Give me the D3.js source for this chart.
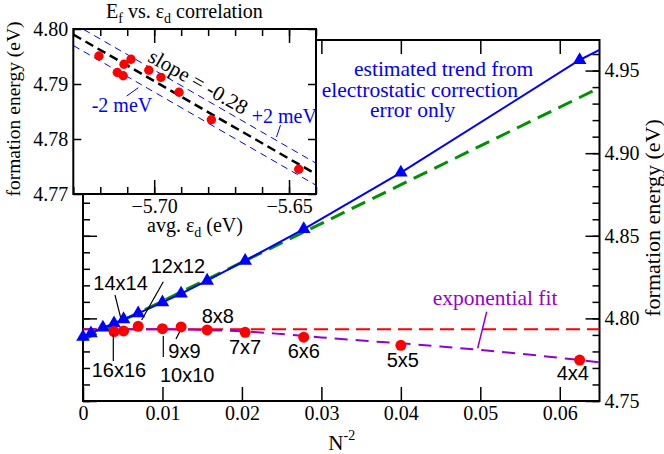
<!DOCTYPE html>
<html>
<head>
<meta charset="utf-8">
<script src="https://cdn.jsdelivr.net/npm/d3@7"></script>
<style>
body { margin: 0; background: #fff; }
svg text { font-family: "Liberation Serif", "Times New Roman", serif; }
svg text.sans { font-family: "Liberation Sans", Arial, sans-serif; }
</style>
</head>
<body>
<script>
// ---- data ----
// supercell sizes NxN, x = N^-2
var sizes = [4, 5, 6, 7, 8, 9, 10, 12, 14, 16];
var nInv2 = sizes.map(function(n) { return 1 / (n * n); });
// computed formation energies (red circles)
var formEnergy = [4.7748, 4.7837, 4.7886, 4.7916, 4.7930, 4.7948, 4.7938, 4.7952, 4.7924, 4.7920];
// electrostatic-only trend (blue triangles), extra larger cells + infinite limit
var trendX = nInv2.concat([0.0025, 0.001, 0]);
var trendE = [4.9564, 4.8882, 4.8541, 4.8349, 4.8228, 4.8150, 4.8097, 4.8030, 4.7995, 4.7970, 4.7944, 4.7910, 4.7889];
var trendEndX = 0.065, trendEndE = 4.9625;
// green dashed linear trend
var linX = [0, 0.065];
var linE = [4.787, 4.9396];
// red dashed converged value
var convE = 4.7934;
// exponential fit (violet dashed)
var expX = [0, 0.01, 0.015, 0.02, 0.025, 0.03, 0.035, 0.04, 0.045, 0.05, 0.055, 0.06, 0.065];
var expE = [4.7934, 4.7934, 4.7930, 4.7922, 4.7905, 4.7885, 4.7866, 4.7849, 4.7830, 4.7809, 4.7786, 4.7761, 4.7734];

// inset: formation energy vs avg d-band centre
var edAvg = [-5.7205, -5.7137, -5.7115, -5.7112, -5.7086, -5.7020, -5.6975, -5.6908, -5.6788, -5.6464];
var edForm = [4.7951, 4.7921, 4.7915, 4.7936, 4.7945, 4.7925, 4.7912, 4.7885, 4.7835, 4.7745];
var fitX = [-5.73, -5.64];
var fitE = [4.7990, 4.7736];
var bandOffsets = [-0.002, 0.002];

// tick labels
var mainXTicks = [0, 0.01, 0.02, 0.03, 0.04, 0.05, 0.06];
var mainYTicks = [4.75, 4.80, 4.85, 4.90, 4.95];
var insetXTicks = [-5.70, -5.65];
var insetYTicks = [4.77, 4.78, 4.79, 4.80];

var W = 664, H = 454;
var svg = d3.select("body").append("svg")
  .attr("width", W)
  .attr("height", H);

//==================== main plot ====================
var x = d3.scaleLinear().domain([0, 0.065]).range([83, 599.5]);
var y = d3.scaleLinear().domain([4.75, 4.9685]).range([401, 40]);

function clean(g) {
  g.select(".domain").remove();
  g.selectAll(".tick line").attr("stroke", "#000").attr("stroke-width", 1.5);
  g.selectAll(".tick text").attr("fill", "#000").attr("font-family", "Liberation Serif").attr("font-size", 20);
}

svg.append("g")
  .attr("transform", "translate(0,401)")
  .call(d3.axisBottom(x).tickValues(mainXTicks).tickSizeInner(-14).tickSizeOuter(0).tickPadding(5)
    .tickFormat(function(d) { return d === 0 ? "0" : d3.format(".2f")(d); }))
  .call(clean);
svg.append("g")
  .attr("transform", "translate(0,40)")
  .call(d3.axisTop(x).tickValues(mainXTicks).tickSizeInner(-14).tickSizeOuter(0).tickFormat(""))
  .call(clean);
// minor y ticks every 0.01
svg.append("g")
  .attr("transform", "translate(83,0)")
  .call(d3.axisLeft(y).ticks(22).tickSizeInner(-7).tickSizeOuter(0).tickFormat(""))
  .call(clean);
svg.append("g")
  .attr("transform", "translate(599.5,0)")
  .call(d3.axisRight(y).ticks(22).tickSizeInner(-7).tickSizeOuter(0).tickFormat(""))
  .call(clean);
svg.append("g")
  .attr("transform", "translate(83,0)")
  .call(d3.axisLeft(y).tickValues(mainYTicks).tickSizeInner(-14).tickSizeOuter(0).tickFormat(""))
  .call(clean);
svg.append("g")
  .attr("transform", "translate(599.5,0)")
  .call(d3.axisRight(y).tickValues(mainYTicks).tickSizeInner(-14).tickSizeOuter(0).tickPadding(5)
    .tickFormat(d3.format(".2f")))
  .call(clean);

svg.append("rect")
  .attr("x", 83).attr("y", 40)
  .attr("width", 516.5).attr("height", 361)
  .attr("fill", "none").attr("stroke", "#000").attr("stroke-width", 2);

var line = d3.line().x(function(d) { return x(d[0]); }).y(function(d) { return y(d[1]); });

// red converged value
svg.append("path")
  .datum([[0, convE], [0.065, convE]])
  .attr("d", line)
  .attr("fill", "none").attr("stroke", "#ff0000").attr("stroke-width", 2)
  .attr("stroke-dasharray", "14,7");

// exponential fit
svg.append("path")
  .datum(d3.zip(expX, expE))
  .attr("d", line.curve(d3.curveMonotoneX))
  .attr("fill", "none").attr("stroke", "#9400d3").attr("stroke-width", 2)
  .attr("stroke-dasharray", "13,8");
line.curve(d3.curveLinear);

// green dashed linear trend
svg.append("path")
  .datum(d3.zip(linX, linE))
  .attr("d", line)
  .attr("fill", "none").attr("stroke", "#009100").attr("stroke-width", 3)
  .attr("stroke-dasharray", "15,8");

// blue trend line + triangles
svg.append("path")
  .datum([[trendEndX, trendEndE]].concat(d3.zip(trendX, trendE)))
  .attr("d", line)
  .attr("fill", "none").attr("stroke", "#0000ff").attr("stroke-width", 2);

svg.append("g").selectAll("path")
  .data(d3.zip(trendX, trendE))
  .join("path")
  .attr("transform", function(d) { return "translate(" + x(d[0]) + "," + y(d[1]) + ")"; })
  .attr("d", d3.symbol(d3.symbolTriangle).size(80))
  .attr("fill", "#0000ff");

// red circles
svg.append("g").selectAll("circle")
  .data(d3.zip(nInv2, formEnergy))
  .join("circle")
  .attr("cx", function(d) { return x(d[0]); })
  .attr("cy", function(d) { return y(d[1]); })
  .attr("r", 5.5)
  .attr("fill", "#ff0000");

// size labels
var sizeLabels = [
  {t: "4x4", x: 556.7, y: 380},
  {t: "5x5", x: 386.7, y: 366.7},
  {t: "6x6", x: 287.7, y: 358.3},
  {t: "7x7", x: 229, y: 354},
  {t: "8x8", x: 201.7, y: 322.7},
  {t: "9x9", x: 168.3, y: 357.7},
  {t: "10x10", x: 160, y: 382.3},
  {t: "16x16", x: 91.7, y: 376.7},
  {t: "14x14", x: 93.3, y: 290},
  {t: "12x12", x: 150.7, y: 273.3}
];
svg.append("g").selectAll("text")
  .data(sizeLabels)
  .join("text")
  .attr("class", "sans")
  .attr("x", function(d) { return d.x; })
  .attr("y", function(d) { return d.y; })
  .attr("font-size", 20)
  .text(function(d) { return d.t; });

var leaders = [
  [176, 339, 179.5, 332],
  [163.3, 336, 163.3, 357],
  [113.3, 334, 113.3, 361],
  [115, 295, 120.5, 317],
  [163.3, 281.7, 141.7, 320]
];
svg.append("g").selectAll("line")
  .data(leaders)
  .join("line")
  .attr("x1", function(d) { return d[0]; }).attr("y1", function(d) { return d[1]; })
  .attr("x2", function(d) { return d[2]; }).attr("y2", function(d) { return d[3]; })
  .attr("stroke", "#000").attr("stroke-width", 1.2);

// annotations
var blueText = [
  {t: "estimated trend from", x: 354, y: 76},
  {t: "electrostatic correction", x: 321.7, y: 96.7},
  {t: "error only", x: 370, y: 117.3}
];
svg.append("g").selectAll("text")
  .data(blueText)
  .join("text")
  .attr("x", function(d) { return d.x; })
  .attr("y", function(d) { return d.y; })
  .attr("font-size", 21.5)
  .attr("fill", "#0000ff")
  .text(function(d) { return d.t; });

svg.append("text")
  .attr("x", 432.7).attr("y", 305)
  .attr("font-size", 21.5).attr("fill", "#9400d3")
  .text("exponential fit");
svg.append("line")
  .attr("x1", 486.7).attr("y1", 311.7).attr("x2", 477.7).attr("y2", 348.3)
  .attr("stroke", "#9400d3").attr("stroke-width", 1.5);

// axis titles
var xl = svg.append("text").attr("x", 328.3).attr("y", 450).attr("font-size", 21);
xl.append("tspan").text("N");
xl.append("tspan").attr("dy", -10).attr("font-size", 14).text("-2");

svg.append("text")
  .attr("transform", "translate(660,218) rotate(-90)")
  .attr("text-anchor", "middle")
  .attr("font-size", 22)
  .text("formation energy (eV)");

//==================== inset ====================
var ix = d3.scaleLinear().domain([-5.73, -5.64]).range([73.3, 316]);
var iy = d3.scaleLinear().domain([4.77, 4.80]).range([194, 29]);

svg.append("rect")
  .attr("x", 73.3).attr("y", 29)
  .attr("width", 242.7).attr("height", 165)
  .attr("fill", "#fff");

svg.append("clipPath").attr("id", "insetClip")
  .append("rect").attr("x", 73.3).attr("y", 29).attr("width", 242.7).attr("height", 165);

svg.append("g")
  .attr("transform", "translate(0,194)")
  .call(d3.axisBottom(ix).ticks(10).tickSizeInner(-7).tickSizeOuter(0).tickFormat(""))
  .call(clean);
svg.append("g")
  .attr("transform", "translate(0,194)")
  .call(d3.axisBottom(ix).tickValues(insetXTicks).tickSizeInner(-14).tickSizeOuter(0).tickPadding(5)
    .tickFormat(d3.format(".2f")))
  .call(clean);
svg.append("g")
  .attr("transform", "translate(0,29)")
  .call(d3.axisTop(ix).ticks(10).tickSizeInner(-7).tickSizeOuter(0).tickFormat(""))
  .call(clean);
svg.append("g")
  .attr("transform", "translate(0,29)")
  .call(d3.axisTop(ix).tickValues(insetXTicks).tickSizeInner(-14).tickSizeOuter(0).tickFormat(""))
  .call(clean);
svg.append("g")
  .attr("transform", "translate(73.3,0)")
  .call(d3.axisLeft(iy).tickValues(insetYTicks).tickSizeInner(-8).tickSizeOuter(0).tickPadding(5)
    .tickFormat(d3.format(".2f")))
  .call(clean);
svg.append("g")
  .attr("transform", "translate(316,0)")
  .call(d3.axisRight(iy).tickValues(insetYTicks).tickSizeInner(-8).tickSizeOuter(0).tickFormat(""))
  .call(clean);

var iline = d3.line().x(function(d) { return ix(d[0]); }).y(function(d) { return iy(d[1]); });
var inset = svg.append("g").attr("clip-path", "url(#insetClip)");

inset.selectAll("path.band")
  .data(bandOffsets)
  .join("path")
  .attr("class", "band")
  .attr("d", function(o) { return iline(d3.zip(fitX, fitE.map(function(e) { return e + o; }))); })
  .attr("fill", "none").attr("stroke", "#0000ff").attr("stroke-width", 1)
  .attr("stroke-dasharray", "7,5");

inset.append("path")
  .datum(d3.zip(fitX, fitE))
  .attr("d", iline)
  .attr("fill", "none").attr("stroke", "#000").attr("stroke-width", 2.5)
  .attr("stroke-dasharray", "9,5");

inset.selectAll("circle")
  .data(d3.zip(edAvg, edForm))
  .join("circle")
  .attr("cx", function(d) { return ix(d[0]); })
  .attr("cy", function(d) { return iy(d[1]); })
  .attr("r", 4.7)
  .attr("fill", "#ff0000");

svg.append("rect")
  .attr("x", 73.3).attr("y", 29)
  .attr("width", 242.7).attr("height", 165)
  .attr("fill", "none").attr("stroke", "#000").attr("stroke-width", 2);

svg.append("text")
  .attr("transform", "translate(146.7,60.7) rotate(29.5)")
  .attr("font-size", 21)
  .text("slope = -0.28");

svg.append("text").attr("x", 91.7).attr("y", 111.7)
  .attr("font-size", 20).attr("fill", "#0000ff").text("-2 meV");
svg.append("line")
  .attr("x1", 126.7).attr("y1", 96).attr("x2", 138.3).attr("y2", 87.7)
  .attr("stroke", "#0000ff").attr("stroke-width", 1);
svg.append("text").attr("x", 251.7).attr("y", 123.3)
  .attr("font-size", 20).attr("fill", "#0000ff").text("+2 meV");
svg.append("line")
  .attr("x1", 276.5).attr("y1", 137).attr("x2", 280.5).attr("y2", 125)
  .attr("stroke", "#0000ff").attr("stroke-width", 1);

var it = svg.append("text").attr("x", 106).attr("y", 18).attr("font-size", 20);
it.append("tspan").text("E");
it.append("tspan").attr("dy", 5).attr("font-size", 14).text("f");
it.append("tspan").attr("dy", -5).text(" vs. \u03b5");
it.append("tspan").attr("dy", 5).attr("font-size", 14).text("d");
it.append("tspan").attr("dy", -5).text(" correlation");

var ixl = svg.append("text").attr("x", 147).attr("y", 231.7).attr("font-size", 20);
ixl.append("tspan").text("avg. \u03b5");
ixl.append("tspan").attr("dy", 5).attr("font-size", 14).text("d");
ixl.append("tspan").attr("dy", -5).text(" (eV)");

svg.append("text")
  .attr("transform", "translate(20,109) rotate(-90)")
  .attr("text-anchor", "middle")
  .attr("font-size", 19.5)
  .text("formation energy (eV)");
</script>
</body>
</html>
